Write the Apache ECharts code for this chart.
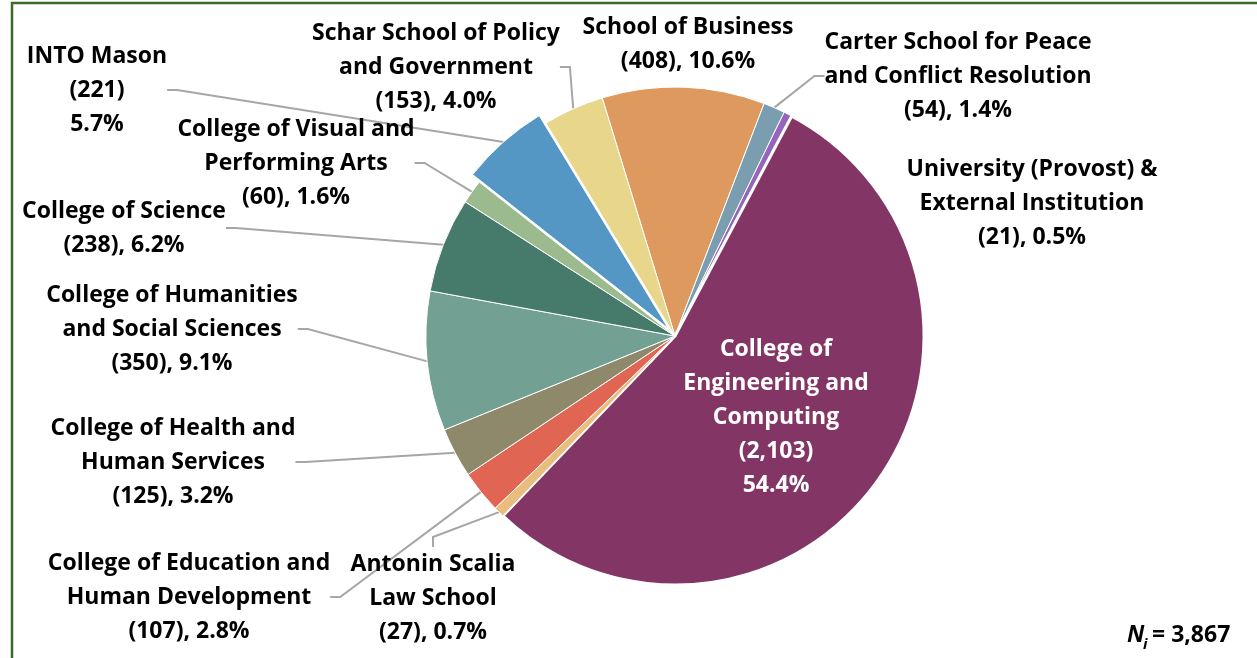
<!DOCTYPE html>
<html>
<head>
<meta charset="utf-8">
<script src="https://cdn.jsdelivr.net/npm/echarts@6/dist/echarts.min.js"></script>
<style>
html, body { margin: 0; padding: 0; background: #fff; }
#main { width: 1257px; height: 658px; }
</style>
</head>
<body>
<div id="main"></div>
<script>
// headcount by school, listed clockwise starting at School of Business
var categories = [
	"School of Business",
	"Carter School for Peace\nand Conflict Resolution",
	"University (Provost) &\nExternal Institution",
	"College of\nEngineering and\nComputing",
	"Antonin Scalia\nLaw School",
	"College of Education and\nHuman Development",
	"College of Health and\nHuman Services",
	"College of Humanities\nand Social Sciences",
	"College of Science",
	"College of Visual and\nPerforming Arts",
	"INTO Mason",
	"Schar School of Policy\nand Government"
];
var counts = [408, 54, 21, 2103, 27, 107, 125, 350, 238, 60, 221, 153];
var colors = ["#DE9A5E", "#7A9EB0", "#9565BE", "#833665", "#E8BD7E", "#E06553",
	"#8E896B", "#72A092", "#467A6A", "#9BBB8F", "#5497C5", "#E8D68B"];

// where each label block is centred (layout only)
var labelSpots = [
	[688, 44], [958, 76], [1032, 203], [776, 417], [433, 598], [189, 597],
	[173, 462], [172, 329], [124, 228], [296, 163], [97, 90], [436, 67]
];

var CENTER = [675, 336];
var RADIUS = 249;
var START = 107;
var EXPLODED = 10; // INTO Mason is pulled out
var EXPLODE_BY = 10;

var total = counts.reduce(function(a, b) { return a + b; }, 0);

// offset of the pulled-out slice, along its mid angle
var before = counts.slice(0, EXPLODED).reduce(function(a, b) { return a + b; }, 0);
var midDeg = START - (before + counts[EXPLODED] / 2) / total * 360;
var midRad = midDeg * Math.PI / 180;
var explodedCenter = [
	CENTER[0] + Math.cos(midRad) * EXPLODE_BY,
	CENTER[1] - Math.sin(midRad) * EXPLODE_BY
];

var hidden = { color: 'rgba(0,0,0,0)', borderWidth: 0 };

function buildItem(i, visible) {
	var item = { name: categories[i], value: counts[i] };
	if (!visible) {
		item.itemStyle = hidden;
		item.label = { show: false };
		item.labelLine = { show: false };
		return item;
	}
	item.itemStyle = { color: colors[i] };
	if (i === 0 || i === 2) {
		item.labelLine = { show: false };
	}
	if (i === 3) {
		item.labelLine = { show: false };
		item.label = { color: "#fff" };
		item.itemStyle.borderWidth = 3;
	}
	return item;
}

var mainData = counts.map(function(v, i) { return buildItem(i, i !== EXPLODED); });
var pulledData = counts.map(function(v, i) { return buildItem(i, i === EXPLODED); });

function labelText(p) {
	var pct = (p.value / total * 100).toFixed(1) + '%';
	var num = p.value.toLocaleString('en-US');
	if (p.dataIndex === 3 || p.dataIndex === EXPLODED) {
		return p.name + '\n(' + num + ')\n' + pct;
	}
	return p.name + '\n(' + num + '), ' + pct;
}

function pieSeries(center, data) {
	return {
		type: 'pie',
		center: center,
		radius: RADIUS,
		startAngle: START,
		clockwise: true,
		avoidLabelOverlap: false,
		silent: true,
		itemStyle: { borderColor: '#fff', borderWidth: 1 },
		emphasis: { disabled: true },
		data: data,
		label: {
			show: true,
			position: 'outside',
			fontFamily: 'Open Sans',
			fontWeight: 'bold',
			fontSize: 23,
			lineHeight: 34,
			color: '#000',
			align: 'center',
			formatter: labelText
		},
		labelLine: {
			show: true,
			length: 10,
			length2: 10,
			lineStyle: { color: '#A6A6A6', width: 2 }
		},
		labelLayout: function(params) {
			var spot = labelSpots[params.dataIndex];
			return {
				x: spot[0],
				y: spot[1],
				align: 'center',
				verticalAlign: 'middle'
			};
		}
	};
}

var chart = echarts.init(document.getElementById('main'));

chart.setOption({
	animation: false,
	graphic: [{
		type: 'rect',
		shape: { x: 12, y: 3, width: 1300, height: 700 },
		style: { fill: 'none', stroke: '#3C6A2B', lineWidth: 2.5 }
	}, {
		type: 'text',
		x: 1127, y: 624,
		style: { text: 'N', font: 'italic bold 23px "Open Sans"', fill: '#000' }
	}, {
		type: 'text',
		x: 1143, y: 637,
		style: { text: 'i', font: 'italic bold 15px "Open Sans"', fill: '#000' }
	}, {
		type: 'text',
		x: 1152, y: 624,
		style: { text: '= 3,867', font: 'bold 23px "Open Sans"', fill: '#000' }
	}],
	series: [
		pieSeries(CENTER, mainData),
		pieSeries(explodedCenter, pulledData)
	]
});
</script>
</body>
</html>
